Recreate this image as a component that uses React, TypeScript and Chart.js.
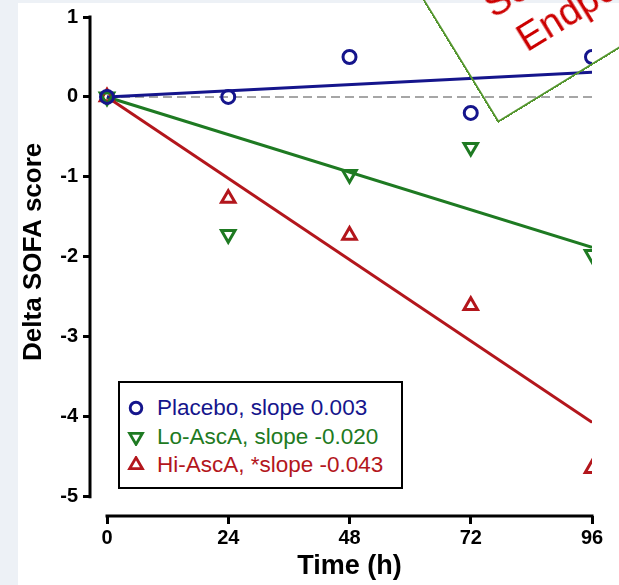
import React, { useEffect, useRef } from "react";
import { Chart, registerables } from "chart.js";

Chart.register(...registerables);

// ---- data ----
const hours = [0, 24, 48, 72, 96];
const placebo = [0, 0, 0.5, -0.2, 0.5];
const loAscA = [0, -1.72, -0.97, -0.63, -1.97];
const hiAscA = [0, -1.27, -1.73, -2.61, -4.65];
const fitHours = [0, 96];
const placeboFit = [0, 0.31];
const loFit = [0, -1.88];
const hiFit = [0, -4.07];
const zeroLine = [0, 0];
const xTicks = [0, 24, 48, 72, 96];
const yTicks = [1, 0, -1, -2, -3, -4, -5];
const seriesLabels = [
  "Placebo, slope 0.003",
  "Lo-AscA, slope -0.020",
  "Hi-AscA, *slope -0.043",
];
const xTitle = "Time (h)";
const yTitle = "Delta SOFA score";
const calloutLines = ["Secondary", "Endpoints"];

// ---- styles ----
const FONT = "'Liberation Sans', Arial, Helvetica, sans-serif";
const BLUE = "#15158c";
const GREEN = "#1e7a22";
const RED = "#b3161c";
const GRAY = "#a6a6a6";
const BOX_GREEN = "#55962f";
const CALLOUT_RED = "#cc0000";

const toPts = (xs: number[], ys: number[]) => xs.map((x, i) => ({ x, y: ys[i] }));

const axisDecor = {
  id: "axisDecor",
  afterDraw(chart: any) {
    const { ctx, chartArea } = chart;
    const xs = chart.scales.x;
    const ys = chart.scales.y;
    const yTop = ys.getPixelForValue(yTicks[0]);
    const yBot = ys.getPixelForValue(yTicks[yTicks.length - 1]);
    const x0 = xs.getPixelForValue(xTicks[0]);
    const x1 = xs.getPixelForValue(xTicks[xTicks.length - 1]);
    ctx.save();
    ctx.strokeStyle = "#000";
    ctx.lineWidth = 3;
    ctx.beginPath();
    ctx.moveTo(chartArea.left, yTop - 1.5);
    ctx.lineTo(chartArea.left, yBot + 1.5);
    ctx.stroke();
    ctx.beginPath();
    ctx.moveTo(x0 - 1.5, chartArea.bottom);
    ctx.lineTo(x1 + 1.5, chartArea.bottom);
    ctx.stroke();

    ctx.fillStyle = "#000";
    ctx.font = `bold 27px ${FONT}`;
    ctx.textAlign = "center";
    ctx.textBaseline = "alphabetic";
    ctx.fillText(xTitle, (x0 + x1) / 2, chartArea.bottom + 58);

    ctx.translate(40.5, (yTop + yBot) / 2 - 5);
    ctx.rotate(-Math.PI / 2);
    ctx.font = `bold 26px ${FONT}`;
    ctx.fillText(yTitle, 0, 0);
    ctx.restore();
  },
};

const pointSet = (data: number[], color: string, style: string, rotation: number, radius: number) => ({
  data: toPts(hours, data),
  showLine: false,
  pointStyle: style,
  pointRotation: rotation,
  pointRadius: radius,
  pointHoverRadius: radius,
  pointBorderWidth: 3,
  pointBorderColor: color,
  pointBackgroundColor: "rgba(0,0,0,0)",
  borderColor: color,
  backgroundColor: "rgba(0,0,0,0)",
  order: 1,
});

const lineSet = (data: number[], color: string, width: number, dash: number[], order: number) => ({
  data: toPts(fitHours, data),
  showLine: true,
  pointRadius: 0,
  pointHoverRadius: 0,
  borderColor: color,
  borderWidth: width,
  borderDash: dash,
  backgroundColor: "rgba(0,0,0,0)",
  fill: false,
  order,
});

const tickFont = { family: FONT, size: 20, weight: "bold" as const };

function Marker({ kind, color }: { kind: string; color: string }) {
  const c = 9;
  const r = 7.4;
  let shape: any;
  if (kind === "circle") {
    shape = <circle cx={c} cy={c} r={5.8} fill="none" stroke={color} strokeWidth={2.9} />;
  } else {
    const s = kind === "down" ? 1 : -1;
    const dx = r * Math.sin(Math.PI / 3);
    const pts = `${c},${c + s * r} ${c - dx},${c - s * r / 2} ${c + dx},${c - s * r / 2}`;
    shape = <polygon points={pts} fill="none" stroke={color} strokeWidth={2.8} strokeLinejoin="miter" />;
  }
  return (
    <svg width={18} height={18} style={{ position: "absolute", left: 6.5, top: 5 }}>
      {shape}
    </svg>
  );
}

export default function App() {
  const canvasRef = useRef<HTMLCanvasElement | null>(null);

  useEffect(() => {
    const canvas = canvasRef.current;
    if (!canvas) return;
    const chart = new Chart(canvas, {
      type: "scatter",
      data: {
        datasets: [
          pointSet(placebo, BLUE, "circle", 0, 6.5),
          pointSet(loAscA, GREEN, "triangle", 180, 7.8),
          pointSet(hiAscA, RED, "triangle", 0, 7.8),
          lineSet(placeboFit, BLUE, 3, [], 3),
          lineSet(loFit, GREEN, 3, [], 3),
          lineSet(hiFit, RED, 3, [], 3),
          lineSet(zeroLine, GRAY, 2, [9, 5], 10),
        ] as any,
      },
      options: {
        responsive: false,
        animation: false,
        devicePixelRatio: 1,
        layout: { padding: { left: 0, top: 12.5, right: 27, bottom: 0 } },
        plugins: { legend: { display: false }, tooltip: { enabled: false } },
        events: [],
        scales: {
          x: {
            type: "linear",
            min: -3.365,
            max: 96,
            afterFit: (s: any) => {
              s.height = 69;
            },
            afterBuildTicks: (s: any) => {
              s.ticks = xTicks.map((v) => ({ value: v }));
            },
            grid: { drawOnChartArea: false, drawTicks: true, tickLength: 8, color: "#000", lineWidth: 3 },
            border: { display: false },
            ticks: {
              font: tickFont,
              color: "#000",
              padding: 2,
              maxRotation: 0,
              autoSkip: false,
              callback: (v: any) => String(v),
            },
          },
          y: {
            type: "linear",
            min: -5.242,
            max: 1,
            afterFit: (s: any) => {
              s.width = 90;
            },
            afterBuildTicks: (s: any) => {
              s.ticks = yTicks.map((v) => ({ value: v }));
            },
            grid: { drawOnChartArea: false, drawTicks: true, tickLength: 7, color: "#000", lineWidth: 3 },
            border: { display: false },
            ticks: {
              font: tickFont,
              color: "#000",
              padding: 5,
              autoSkip: false,
              callback: (v: any) => String(v),
            },
          },
        },
      },
      plugins: [axisDecor],
    } as any);
    return () => chart.destroy();
  }, []);

  const legendColors = [BLUE, GREEN, RED];
  const legendKinds = ["circle", "down", "up"];
  const H = 400;

  return (
    <div
      style={{
        position: "fixed",
        left: 0,
        top: 0,
        width: 619,
        height: 585,
        overflow: "hidden",
        background: "#edf1f6",
      }}
    >
      <div style={{ position: "absolute", left: 18, top: 3, right: 0, bottom: 0, background: "#fff" }} />
      <canvas
        ref={canvasRef}
        width={619}
        height={585}
        style={{ position: "absolute", left: 0, top: 0, width: 619, height: 585 }}
      />
      {/* legend */}
      <div
        style={{
          position: "absolute",
          left: 118,
          top: 381,
          width: 285,
          height: 108,
          boxSizing: "border-box",
          border: "2px solid #000",
          background: "#fff",
          fontFamily: FONT,
          fontSize: 22.5,
        }}
      >
        {seriesLabels.map((label, i) => (
          <div
            key={label}
            style={{
              position: "absolute",
              left: 0,
              top: 11 + 28.5 * i,
              height: 28,
              width: 280,
              lineHeight: "28px",
              color: legendColors[i],
              whiteSpace: "nowrap",
            }}
          >
            <Marker kind={legendKinds[i]} color={legendColors[i]} />
            <span style={{ position: "absolute", left: 37, top: 0 }}>{label}</span>
          </div>
        ))}
      </div>
      {/* rotated callout box */}
      <div
        style={{
          position: "absolute",
          left: 498,
          top: 123 - H,
          width: 500,
          height: H,
          boxSizing: "border-box",
          borderLeft: `2.5px solid ${BOX_GREEN}`,
          borderBottom: `2.5px solid ${BOX_GREEN}`,
          transformOrigin: "0 100%",
          transform: "rotate(-31.5deg)",
          fontFamily: FONT,
          fontSize: 38,
          lineHeight: "38px",
          color: CALLOUT_RED,
          whiteSpace: "nowrap",
        }}
      >
        <div style={{ position: "absolute", left: 48.5, top: H - 123 }}>{calloutLines[0]}</div>
        <div style={{ position: "absolute", left: 59.5, top: H - 77 }}>{calloutLines[1]}</div>
      </div>
    </div>
  );
}
